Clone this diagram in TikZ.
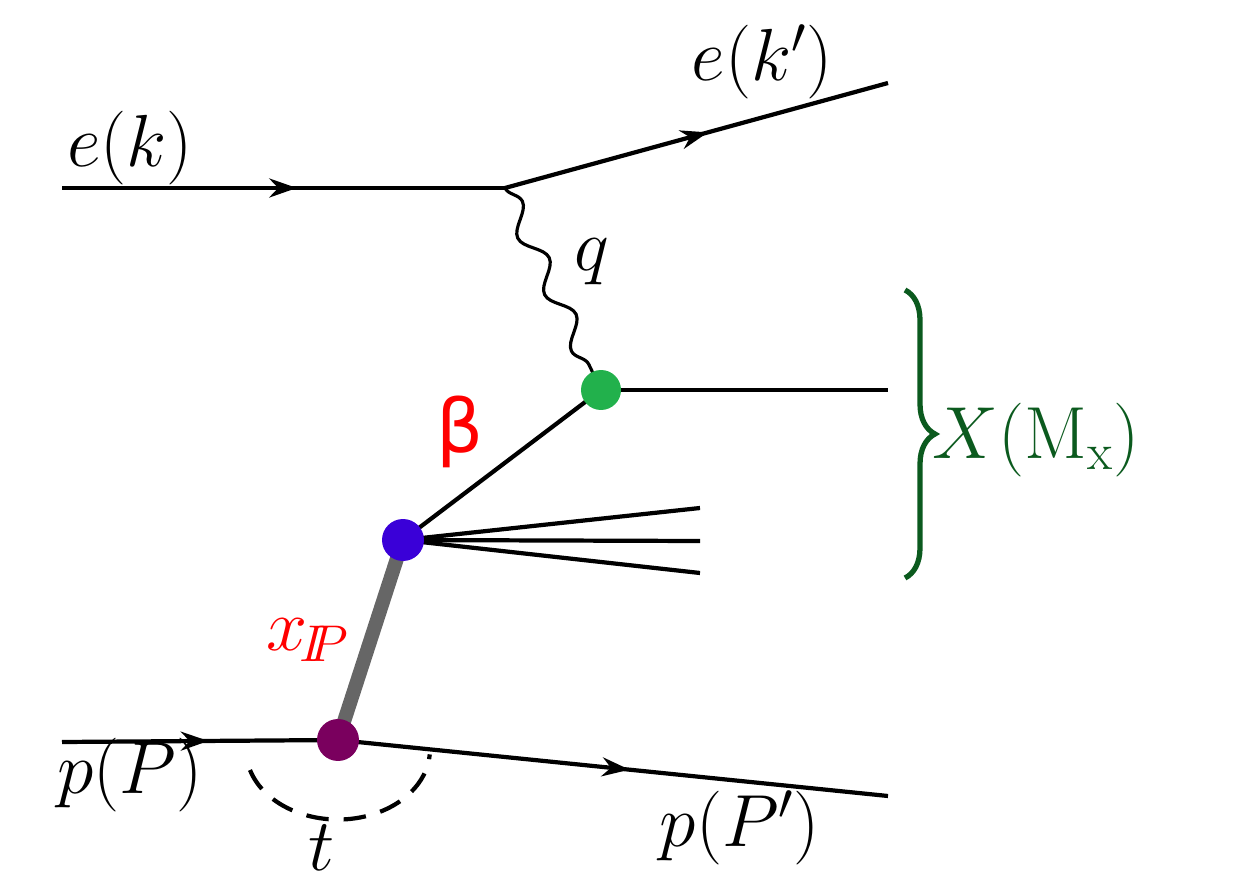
\documentclass[tikz,border=0pt]{standalone}
\usepackage{fix-cm}
\usepackage{fontspec}
\newfontfamily\djv{DejaVu Sans}
\usetikzlibrary{decorations.pathmorphing,decorations.markings,decorations.pathreplacing,arrows.meta}
\definecolor{gdot}{HTML}{22B14C}
\definecolor{bdot}{HTML}{3A00D8}
\definecolor{pdot}{HTML}{7A005E}
\definecolor{dgreen}{HTML}{0B5A1E}
\begin{document}
\begin{tikzpicture}[x=0.02cm,y=-0.02cm,line width=2.4pt,
  fer/.style={postaction={decorate},decoration={markings,mark=at position #1 with {\arrow{Stealth[length=0.55cm,width=0.38cm]}}}},
  lab/.style={font=\fontsize{42}{50}\selectfont},
  dotn/.style={circle,inner sep=0pt,minimum size=0.8cm}]
\useasboundingbox (0,0) rectangle (1243,884);
\coordinate (ein) at (62,188);
\coordinate (v1) at (505,188);
\coordinate (eout) at (888,83);
\node[dotn] (g) at (601,390) {};
\node[dotn] (b) at (403,540) {};
\node[dotn] (pu) at (338,740) {};
\coordinate (x1) at (888,390);
\coordinate (j1) at (700,508);
\coordinate (j2) at (700,541);
\coordinate (j3) at (700,573);
\coordinate (pin) at (62,742);
\coordinate (pout) at (888,796);
\draw[fer=0.53] (ein) -- (v1);
\draw[fer=0.53] (v1) -- (eout);
\draw[line width=1.8pt,decorate,decoration={snake,amplitude=0.2cm,segment length=1.25cm}] (v1) -- (g.center);
\draw (g.center) -- (x1);
\draw (b.center) -- (g.center);
\draw (b.center) -- (j1);
\draw (b.center) -- (j2);
\draw (b.center) -- (j3);
\draw[line width=8pt,color=black!60] (b.center) -- (pu.center);
\draw[fer=0.53] (pin) -- (pu.center);
\draw[fer=0.53] (pu.center) -- (pout);
\draw[dashed,dash pattern=on 0.45cm off 0.3cm] (250,770) arc[start angle=197,end angle=356,x radius=92,y radius=-70];
\fill[gdot] (g.center) circle (0.4cm);
\fill[bdot] (b.center) circle (0.42cm);
\fill[pdot] (pu.center) circle (0.42cm);
\node[lab] (lek) at (130,148) {$e(k)$};
\node[lab] (lekp) at (762,62) {$e(k')$};
\node[lab] (lq) at (592,262) {$q$};
\node[lab,red] (lb) at (460,432) {\djv β};
\node[lab,red] (lx) at (308,640) {$x_{\!I\!\!P}$};
\node[lab] (lp) at (130,775) {$p(P)$};
\node[lab] (lpp) at (740,828) {$p(P')$};
\node[lab] (lt) at (322,848) {$t$};
\draw[dgreen,line width=3pt,decorate,decoration={brace,amplitude=0.6cm}] (905,290) -- (905,578);
\node[lab,dgreen,anchor=west] (lX) at (925,440) {$X(\mathrm{M}_{\mathrm{x}})$};
\end{tikzpicture}
\end{document}
